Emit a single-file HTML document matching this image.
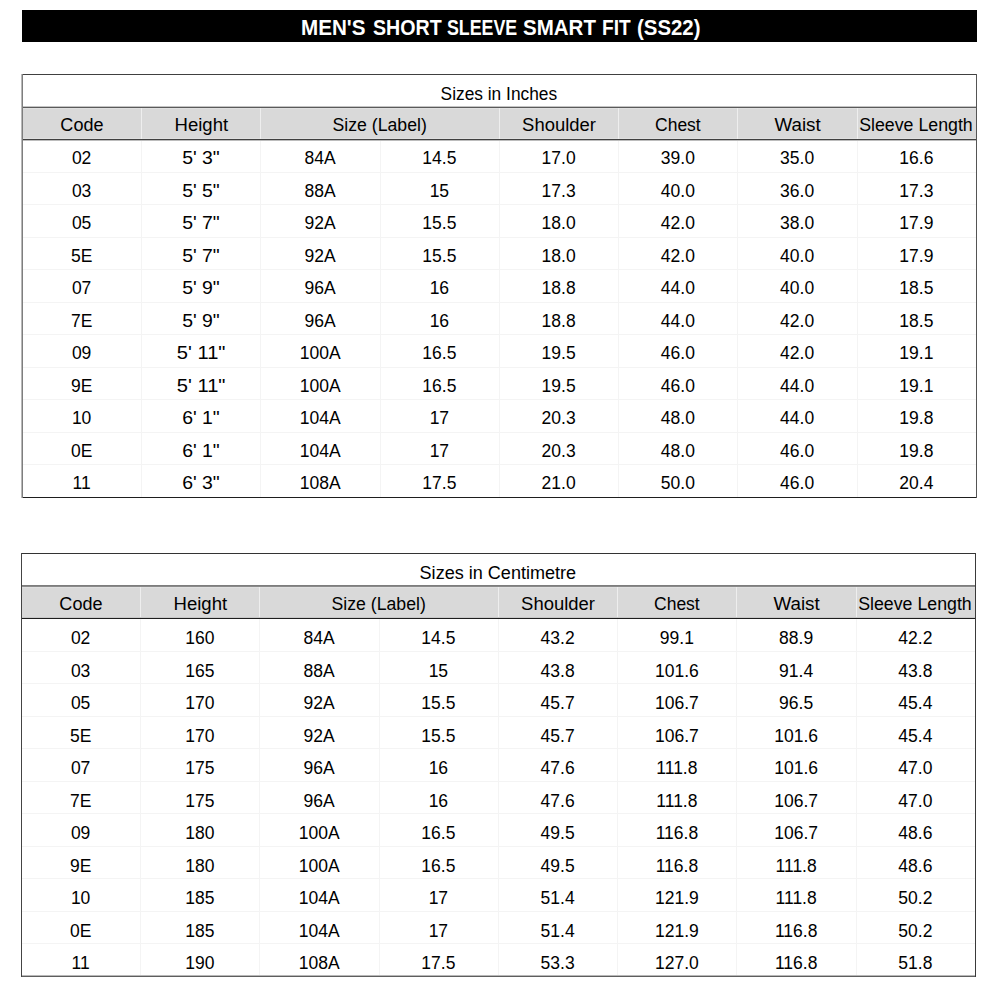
<!DOCTYPE html>
<html><head><meta charset="utf-8"><style>
html,body{margin:0;padding:0;background:#fff;}
body{width:1000px;height:1000px;position:relative;overflow:hidden;font-family:"Liberation Sans",sans-serif;color:#000;}
.t{position:absolute;text-align:center;white-space:nowrap;}
.ln{position:absolute;}
.hb{position:absolute;background:#d9d9d9;}
.vw{position:absolute;width:1px;background:#f0f0f0;}
.vg{position:absolute;width:1px;background:#f2f2f2;}
.hg{position:absolute;height:1px;background:#f2f2f2;}
.hl{position:absolute;height:1px;}
.bar{position:absolute;left:22px;top:10px;width:955px;height:32px;background:#000;}
</style></head><body>
<div class="bar"></div>
<div style="position:absolute;left:301.28px;top:15.50px;height:24px;line-height:24px;font-size:22.5px;font-weight:bold;color:#fff;white-space:nowrap;transform:scaleX(0.9159);transform-origin:0 50%;">MEN&#39;S</div>
<div style="position:absolute;left:372.53px;top:15.50px;height:24px;line-height:24px;font-size:22.5px;font-weight:bold;color:#fff;white-space:nowrap;transform:scaleX(0.8718);transform-origin:0 50%;">SHORT</div>
<div style="position:absolute;left:447.21px;top:15.50px;height:24px;line-height:24px;font-size:22.5px;font-weight:bold;color:#fff;white-space:nowrap;transform:scaleX(0.7908);transform-origin:0 50%;">SLEEVE</div>
<div style="position:absolute;left:523.09px;top:15.50px;height:24px;line-height:24px;font-size:22.5px;font-weight:bold;color:#fff;white-space:nowrap;transform:scaleX(0.9114);transform-origin:0 50%;">SMART</div>
<div style="position:absolute;left:602.35px;top:15.50px;height:24px;line-height:24px;font-size:22.5px;font-weight:bold;color:#fff;white-space:nowrap;transform:scaleX(0.8485);transform-origin:0 50%;">FIT</div>
<div style="position:absolute;left:636.69px;top:15.50px;height:24px;line-height:24px;font-size:22.5px;font-weight:bold;color:#fff;white-space:nowrap;transform:scaleX(0.9059);transform-origin:0 50%;">(SS22)</div>
<div class="hb" style="left:23px;top:108px;width:953px;height:31px"></div>
<div class="ln" style="left:23px;top:108px;width:953px;height:1px;background:#e0e0e0"></div>
<div class="ln" style="left:23px;top:138px;width:953px;height:1px;background:#e0e0e0"></div>
<div class="ln" style="left:141px;top:108px;width:1px;height:31px;background:#eeeeee"></div>
<div class="ln" style="left:260px;top:108px;width:1px;height:31px;background:#eeeeee"></div>
<div class="ln" style="left:499px;top:108px;width:1px;height:31px;background:#eeeeee"></div>
<div class="ln" style="left:618px;top:108px;width:1px;height:31px;background:#eeeeee"></div>
<div class="ln" style="left:737px;top:108px;width:1px;height:31px;background:#eeeeee"></div>
<div class="ln" style="left:857px;top:108px;width:1px;height:31px;background:#eeeeee"></div>
<div class="ln" style="left:141px;top:140px;width:1px;height:357px;background:#f4f4f4"></div>
<div class="ln" style="left:260px;top:140px;width:1px;height:357px;background:#f4f4f4"></div>
<div class="ln" style="left:380px;top:140px;width:1px;height:357px;background:#f4f4f4"></div>
<div class="ln" style="left:499px;top:140px;width:1px;height:357px;background:#f4f4f4"></div>
<div class="ln" style="left:618px;top:140px;width:1px;height:357px;background:#f4f4f4"></div>
<div class="ln" style="left:737px;top:140px;width:1px;height:357px;background:#f4f4f4"></div>
<div class="ln" style="left:857px;top:140px;width:1px;height:357px;background:#f4f4f4"></div>
<div class="ln" style="left:23px;top:172px;width:953px;height:1px;background:#f4f4f4"></div>
<div class="ln" style="left:23px;top:204px;width:953px;height:1px;background:#f4f4f4"></div>
<div class="ln" style="left:23px;top:237px;width:953px;height:1px;background:#f4f4f4"></div>
<div class="ln" style="left:23px;top:269px;width:953px;height:1px;background:#f4f4f4"></div>
<div class="ln" style="left:23px;top:302px;width:953px;height:1px;background:#f4f4f4"></div>
<div class="ln" style="left:23px;top:334px;width:953px;height:1px;background:#f4f4f4"></div>
<div class="ln" style="left:23px;top:367px;width:953px;height:1px;background:#f4f4f4"></div>
<div class="ln" style="left:23px;top:399px;width:953px;height:1px;background:#f4f4f4"></div>
<div class="ln" style="left:23px;top:432px;width:953px;height:1px;background:#f4f4f4"></div>
<div class="ln" style="left:23px;top:464px;width:953px;height:1px;background:#f4f4f4"></div>
<div class="ln" style="left:21px;top:74px;width:955px;height:1px;background:#404040"></div>
<div class="ln" style="left:21px;top:497px;width:955px;height:1px;background:#1e1e1e"></div>
<div class="ln" style="left:21px;top:106px;width:955px;height:1px;background:#c4c4c4"></div>
<div class="ln" style="left:21px;top:107px;width:955px;height:1px;background:#5a5a5a"></div>
<div class="ln" style="left:21px;top:139px;width:955px;height:1px;background:#404040"></div>
<div class="ln" style="left:21px;top:140px;width:955px;height:1px;background:#bcbcbc"></div>
<div class="ln" style="left:21px;top:74px;width:1px;height:424px;background:#b8b8b8"></div>
<div class="ln" style="left:22px;top:74px;width:1px;height:424px;background:#7e7e7e"></div>
<div class="ln" style="left:976px;top:74px;width:1px;height:424px;background:#555555"></div>
<div class="t" style="left:22.00px;width:954.00px;top:83.74px;font-size:17.5px;line-height:20px;"><span style="display:inline-block;transform:scaleX(0.9900);transform-origin:50% 50%;">Sizes in Inches</span></div>
<div class="t" style="left:22.20px;width:119.25px;top:115.14px;font-size:17.5px;line-height:20px;"><span style="display:inline-block;transform:scaleX(1.0300);transform-origin:50% 50%;">Code</span></div>
<div class="t" style="left:141.75px;width:119.25px;top:115.14px;font-size:17.5px;line-height:20px;"><span style="display:inline-block;transform:scaleX(1.0600);transform-origin:50% 50%;">Height</span></div>
<div class="t" style="left:260.80px;width:238.50px;top:115.14px;font-size:17.5px;line-height:20px;"><span style="display:inline-block;transform:scaleX(1.0100);transform-origin:50% 50%;">Size (Label)</span></div>
<div class="t" style="left:499.50px;width:119.25px;top:115.14px;font-size:17.5px;line-height:20px;"><span style="display:inline-block;transform:scaleX(1.0540);transform-origin:50% 50%;">Shoulder</span></div>
<div class="t" style="left:618.25px;width:119.25px;top:115.14px;font-size:17.5px;line-height:20px;">Chest</div>
<div class="t" style="left:737.90px;width:119.25px;top:115.14px;font-size:17.5px;line-height:20px;"><span style="display:inline-block;transform:scaleX(1.0740);transform-origin:50% 50%;">Waist</span></div>
<div class="t" style="left:856.15px;width:119.25px;top:115.14px;font-size:17.5px;line-height:20px;"><span style="display:inline-block;transform:scaleX(1.0150);transform-origin:50% 50%;">Sleeve Length</span></div>
<div class="t" style="left:22.00px;width:119.25px;top:148.14px;font-size:17.5px;line-height:20px;">02</div>
<div class="t" style="left:141.25px;width:119.25px;top:148.14px;font-size:17.5px;line-height:20px;"><span style="display:inline-block;transform:scaleX(1.1100);transform-origin:50% 50%;">5&#x27; 3&quot;</span></div>
<div class="t" style="left:260.50px;width:119.25px;top:148.14px;font-size:17.5px;line-height:20px;">84A</div>
<div class="t" style="left:379.75px;width:119.25px;top:148.14px;font-size:17.5px;line-height:20px;">14.5</div>
<div class="t" style="left:499.00px;width:119.25px;top:148.14px;font-size:17.5px;line-height:20px;">17.0</div>
<div class="t" style="left:618.25px;width:119.25px;top:148.14px;font-size:17.5px;line-height:20px;">39.0</div>
<div class="t" style="left:737.50px;width:119.25px;top:148.14px;font-size:17.5px;line-height:20px;">35.0</div>
<div class="t" style="left:856.75px;width:119.25px;top:148.14px;font-size:17.5px;line-height:20px;">16.6</div>
<div class="t" style="left:22.00px;width:119.25px;top:180.64px;font-size:17.5px;line-height:20px;">03</div>
<div class="t" style="left:141.25px;width:119.25px;top:180.64px;font-size:17.5px;line-height:20px;"><span style="display:inline-block;transform:scaleX(1.1100);transform-origin:50% 50%;">5&#x27; 5&quot;</span></div>
<div class="t" style="left:260.50px;width:119.25px;top:180.64px;font-size:17.5px;line-height:20px;">88A</div>
<div class="t" style="left:379.75px;width:119.25px;top:180.64px;font-size:17.5px;line-height:20px;">15</div>
<div class="t" style="left:499.00px;width:119.25px;top:180.64px;font-size:17.5px;line-height:20px;">17.3</div>
<div class="t" style="left:618.25px;width:119.25px;top:180.64px;font-size:17.5px;line-height:20px;">40.0</div>
<div class="t" style="left:737.50px;width:119.25px;top:180.64px;font-size:17.5px;line-height:20px;">36.0</div>
<div class="t" style="left:856.75px;width:119.25px;top:180.64px;font-size:17.5px;line-height:20px;">17.3</div>
<div class="t" style="left:22.00px;width:119.25px;top:213.14px;font-size:17.5px;line-height:20px;">05</div>
<div class="t" style="left:141.25px;width:119.25px;top:213.14px;font-size:17.5px;line-height:20px;"><span style="display:inline-block;transform:scaleX(1.1100);transform-origin:50% 50%;">5&#x27; 7&quot;</span></div>
<div class="t" style="left:260.50px;width:119.25px;top:213.14px;font-size:17.5px;line-height:20px;">92A</div>
<div class="t" style="left:379.75px;width:119.25px;top:213.14px;font-size:17.5px;line-height:20px;">15.5</div>
<div class="t" style="left:499.00px;width:119.25px;top:213.14px;font-size:17.5px;line-height:20px;">18.0</div>
<div class="t" style="left:618.25px;width:119.25px;top:213.14px;font-size:17.5px;line-height:20px;">42.0</div>
<div class="t" style="left:737.50px;width:119.25px;top:213.14px;font-size:17.5px;line-height:20px;">38.0</div>
<div class="t" style="left:856.75px;width:119.25px;top:213.14px;font-size:17.5px;line-height:20px;">17.9</div>
<div class="t" style="left:22.00px;width:119.25px;top:245.64px;font-size:17.5px;line-height:20px;">5E</div>
<div class="t" style="left:141.25px;width:119.25px;top:245.64px;font-size:17.5px;line-height:20px;"><span style="display:inline-block;transform:scaleX(1.1100);transform-origin:50% 50%;">5&#x27; 7&quot;</span></div>
<div class="t" style="left:260.50px;width:119.25px;top:245.64px;font-size:17.5px;line-height:20px;">92A</div>
<div class="t" style="left:379.75px;width:119.25px;top:245.64px;font-size:17.5px;line-height:20px;">15.5</div>
<div class="t" style="left:499.00px;width:119.25px;top:245.64px;font-size:17.5px;line-height:20px;">18.0</div>
<div class="t" style="left:618.25px;width:119.25px;top:245.64px;font-size:17.5px;line-height:20px;">42.0</div>
<div class="t" style="left:737.50px;width:119.25px;top:245.64px;font-size:17.5px;line-height:20px;">40.0</div>
<div class="t" style="left:856.75px;width:119.25px;top:245.64px;font-size:17.5px;line-height:20px;">17.9</div>
<div class="t" style="left:22.00px;width:119.25px;top:278.14px;font-size:17.5px;line-height:20px;">07</div>
<div class="t" style="left:141.25px;width:119.25px;top:278.14px;font-size:17.5px;line-height:20px;"><span style="display:inline-block;transform:scaleX(1.1100);transform-origin:50% 50%;">5&#x27; 9&quot;</span></div>
<div class="t" style="left:260.50px;width:119.25px;top:278.14px;font-size:17.5px;line-height:20px;">96A</div>
<div class="t" style="left:379.75px;width:119.25px;top:278.14px;font-size:17.5px;line-height:20px;">16</div>
<div class="t" style="left:499.00px;width:119.25px;top:278.14px;font-size:17.5px;line-height:20px;">18.8</div>
<div class="t" style="left:618.25px;width:119.25px;top:278.14px;font-size:17.5px;line-height:20px;">44.0</div>
<div class="t" style="left:737.50px;width:119.25px;top:278.14px;font-size:17.5px;line-height:20px;">40.0</div>
<div class="t" style="left:856.75px;width:119.25px;top:278.14px;font-size:17.5px;line-height:20px;">18.5</div>
<div class="t" style="left:22.00px;width:119.25px;top:310.64px;font-size:17.5px;line-height:20px;">7E</div>
<div class="t" style="left:141.25px;width:119.25px;top:310.64px;font-size:17.5px;line-height:20px;"><span style="display:inline-block;transform:scaleX(1.1100);transform-origin:50% 50%;">5&#x27; 9&quot;</span></div>
<div class="t" style="left:260.50px;width:119.25px;top:310.64px;font-size:17.5px;line-height:20px;">96A</div>
<div class="t" style="left:379.75px;width:119.25px;top:310.64px;font-size:17.5px;line-height:20px;">16</div>
<div class="t" style="left:499.00px;width:119.25px;top:310.64px;font-size:17.5px;line-height:20px;">18.8</div>
<div class="t" style="left:618.25px;width:119.25px;top:310.64px;font-size:17.5px;line-height:20px;">44.0</div>
<div class="t" style="left:737.50px;width:119.25px;top:310.64px;font-size:17.5px;line-height:20px;">42.0</div>
<div class="t" style="left:856.75px;width:119.25px;top:310.64px;font-size:17.5px;line-height:20px;">18.5</div>
<div class="t" style="left:22.00px;width:119.25px;top:343.14px;font-size:17.5px;line-height:20px;">09</div>
<div class="t" style="left:141.25px;width:119.25px;top:343.14px;font-size:17.5px;line-height:20px;"><span style="display:inline-block;transform:scaleX(1.1500);transform-origin:50% 50%;">5&#x27; 11&quot;</span></div>
<div class="t" style="left:260.50px;width:119.25px;top:343.14px;font-size:17.5px;line-height:20px;">100A</div>
<div class="t" style="left:379.75px;width:119.25px;top:343.14px;font-size:17.5px;line-height:20px;">16.5</div>
<div class="t" style="left:499.00px;width:119.25px;top:343.14px;font-size:17.5px;line-height:20px;">19.5</div>
<div class="t" style="left:618.25px;width:119.25px;top:343.14px;font-size:17.5px;line-height:20px;">46.0</div>
<div class="t" style="left:737.50px;width:119.25px;top:343.14px;font-size:17.5px;line-height:20px;">42.0</div>
<div class="t" style="left:856.75px;width:119.25px;top:343.14px;font-size:17.5px;line-height:20px;">19.1</div>
<div class="t" style="left:22.00px;width:119.25px;top:375.64px;font-size:17.5px;line-height:20px;">9E</div>
<div class="t" style="left:141.25px;width:119.25px;top:375.64px;font-size:17.5px;line-height:20px;"><span style="display:inline-block;transform:scaleX(1.1500);transform-origin:50% 50%;">5&#x27; 11&quot;</span></div>
<div class="t" style="left:260.50px;width:119.25px;top:375.64px;font-size:17.5px;line-height:20px;">100A</div>
<div class="t" style="left:379.75px;width:119.25px;top:375.64px;font-size:17.5px;line-height:20px;">16.5</div>
<div class="t" style="left:499.00px;width:119.25px;top:375.64px;font-size:17.5px;line-height:20px;">19.5</div>
<div class="t" style="left:618.25px;width:119.25px;top:375.64px;font-size:17.5px;line-height:20px;">46.0</div>
<div class="t" style="left:737.50px;width:119.25px;top:375.64px;font-size:17.5px;line-height:20px;">44.0</div>
<div class="t" style="left:856.75px;width:119.25px;top:375.64px;font-size:17.5px;line-height:20px;">19.1</div>
<div class="t" style="left:22.00px;width:119.25px;top:408.14px;font-size:17.5px;line-height:20px;">10</div>
<div class="t" style="left:141.25px;width:119.25px;top:408.14px;font-size:17.5px;line-height:20px;"><span style="display:inline-block;transform:scaleX(1.1100);transform-origin:50% 50%;">6&#x27; 1&quot;</span></div>
<div class="t" style="left:260.50px;width:119.25px;top:408.14px;font-size:17.5px;line-height:20px;">104A</div>
<div class="t" style="left:379.75px;width:119.25px;top:408.14px;font-size:17.5px;line-height:20px;">17</div>
<div class="t" style="left:499.00px;width:119.25px;top:408.14px;font-size:17.5px;line-height:20px;">20.3</div>
<div class="t" style="left:618.25px;width:119.25px;top:408.14px;font-size:17.5px;line-height:20px;">48.0</div>
<div class="t" style="left:737.50px;width:119.25px;top:408.14px;font-size:17.5px;line-height:20px;">44.0</div>
<div class="t" style="left:856.75px;width:119.25px;top:408.14px;font-size:17.5px;line-height:20px;">19.8</div>
<div class="t" style="left:22.00px;width:119.25px;top:440.64px;font-size:17.5px;line-height:20px;">0E</div>
<div class="t" style="left:141.25px;width:119.25px;top:440.64px;font-size:17.5px;line-height:20px;"><span style="display:inline-block;transform:scaleX(1.1100);transform-origin:50% 50%;">6&#x27; 1&quot;</span></div>
<div class="t" style="left:260.50px;width:119.25px;top:440.64px;font-size:17.5px;line-height:20px;">104A</div>
<div class="t" style="left:379.75px;width:119.25px;top:440.64px;font-size:17.5px;line-height:20px;">17</div>
<div class="t" style="left:499.00px;width:119.25px;top:440.64px;font-size:17.5px;line-height:20px;">20.3</div>
<div class="t" style="left:618.25px;width:119.25px;top:440.64px;font-size:17.5px;line-height:20px;">48.0</div>
<div class="t" style="left:737.50px;width:119.25px;top:440.64px;font-size:17.5px;line-height:20px;">46.0</div>
<div class="t" style="left:856.75px;width:119.25px;top:440.64px;font-size:17.5px;line-height:20px;">19.8</div>
<div class="t" style="left:22.00px;width:119.25px;top:473.14px;font-size:17.5px;line-height:20px;">11</div>
<div class="t" style="left:141.25px;width:119.25px;top:473.14px;font-size:17.5px;line-height:20px;"><span style="display:inline-block;transform:scaleX(1.1100);transform-origin:50% 50%;">6&#x27; 3&quot;</span></div>
<div class="t" style="left:260.50px;width:119.25px;top:473.14px;font-size:17.5px;line-height:20px;">108A</div>
<div class="t" style="left:379.75px;width:119.25px;top:473.14px;font-size:17.5px;line-height:20px;">17.5</div>
<div class="t" style="left:499.00px;width:119.25px;top:473.14px;font-size:17.5px;line-height:20px;">21.0</div>
<div class="t" style="left:618.25px;width:119.25px;top:473.14px;font-size:17.5px;line-height:20px;">50.0</div>
<div class="t" style="left:737.50px;width:119.25px;top:473.14px;font-size:17.5px;line-height:20px;">46.0</div>
<div class="t" style="left:856.75px;width:119.25px;top:473.14px;font-size:17.5px;line-height:20px;">20.4</div>
<div class="hb" style="left:22px;top:587px;width:953px;height:31px"></div>
<div class="ln" style="left:22px;top:587px;width:953px;height:1px;background:#e0e0e0"></div>
<div class="ln" style="left:22px;top:617px;width:953px;height:1px;background:#e0e0e0"></div>
<div class="ln" style="left:140px;top:587px;width:1px;height:31px;background:#eeeeee"></div>
<div class="ln" style="left:259px;top:587px;width:1px;height:31px;background:#eeeeee"></div>
<div class="ln" style="left:498px;top:587px;width:1px;height:31px;background:#eeeeee"></div>
<div class="ln" style="left:617px;top:587px;width:1px;height:31px;background:#eeeeee"></div>
<div class="ln" style="left:736px;top:587px;width:1px;height:31px;background:#eeeeee"></div>
<div class="ln" style="left:856px;top:587px;width:1px;height:31px;background:#eeeeee"></div>
<div class="ln" style="left:140px;top:619px;width:1px;height:357px;background:#f4f4f4"></div>
<div class="ln" style="left:259px;top:619px;width:1px;height:357px;background:#f4f4f4"></div>
<div class="ln" style="left:379px;top:619px;width:1px;height:357px;background:#f4f4f4"></div>
<div class="ln" style="left:498px;top:619px;width:1px;height:357px;background:#f4f4f4"></div>
<div class="ln" style="left:617px;top:619px;width:1px;height:357px;background:#f4f4f4"></div>
<div class="ln" style="left:736px;top:619px;width:1px;height:357px;background:#f4f4f4"></div>
<div class="ln" style="left:856px;top:619px;width:1px;height:357px;background:#f4f4f4"></div>
<div class="ln" style="left:22px;top:651px;width:953px;height:1px;background:#f4f4f4"></div>
<div class="ln" style="left:22px;top:683px;width:953px;height:1px;background:#f4f4f4"></div>
<div class="ln" style="left:22px;top:716px;width:953px;height:1px;background:#f4f4f4"></div>
<div class="ln" style="left:22px;top:748px;width:953px;height:1px;background:#f4f4f4"></div>
<div class="ln" style="left:22px;top:781px;width:953px;height:1px;background:#f4f4f4"></div>
<div class="ln" style="left:22px;top:813px;width:953px;height:1px;background:#f4f4f4"></div>
<div class="ln" style="left:22px;top:846px;width:953px;height:1px;background:#f4f4f4"></div>
<div class="ln" style="left:22px;top:878px;width:953px;height:1px;background:#f4f4f4"></div>
<div class="ln" style="left:22px;top:911px;width:953px;height:1px;background:#f4f4f4"></div>
<div class="ln" style="left:22px;top:943px;width:953px;height:1px;background:#f4f4f4"></div>
<div class="ln" style="left:21px;top:553px;width:955px;height:1px;background:#333333"></div>
<div class="ln" style="left:21px;top:976px;width:955px;height:1px;background:#5e5e5e"></div>
<div class="ln" style="left:21px;top:975px;width:955px;height:1px;background:#b8b8b8"></div>
<div class="ln" style="left:21px;top:585px;width:955px;height:1px;background:#7d7d7d"></div>
<div class="ln" style="left:21px;top:586px;width:955px;height:1px;background:#8a8a8a"></div>
<div class="ln" style="left:21px;top:618px;width:955px;height:1px;background:#1e1e1e"></div>
<div class="ln" style="left:21px;top:617px;width:955px;height:1px;background:#c8c8c8"></div>
<div class="ln" style="left:21px;top:553px;width:1px;height:424px;background:#444444"></div>
<div class="ln" style="left:975px;top:553px;width:1px;height:424px;background:#3a3a3a"></div>
<div class="t" style="left:21.00px;width:954.00px;top:562.74px;font-size:17.5px;line-height:20px;"><span style="display:inline-block;transform:scaleX(1.0320);transform-origin:50% 50%;">Sizes in Centimetre</span></div>
<div class="t" style="left:21.20px;width:119.25px;top:594.14px;font-size:17.5px;line-height:20px;"><span style="display:inline-block;transform:scaleX(1.0300);transform-origin:50% 50%;">Code</span></div>
<div class="t" style="left:140.75px;width:119.25px;top:594.14px;font-size:17.5px;line-height:20px;"><span style="display:inline-block;transform:scaleX(1.0600);transform-origin:50% 50%;">Height</span></div>
<div class="t" style="left:259.80px;width:238.50px;top:594.14px;font-size:17.5px;line-height:20px;"><span style="display:inline-block;transform:scaleX(1.0100);transform-origin:50% 50%;">Size (Label)</span></div>
<div class="t" style="left:498.50px;width:119.25px;top:594.14px;font-size:17.5px;line-height:20px;"><span style="display:inline-block;transform:scaleX(1.0540);transform-origin:50% 50%;">Shoulder</span></div>
<div class="t" style="left:617.25px;width:119.25px;top:594.14px;font-size:17.5px;line-height:20px;">Chest</div>
<div class="t" style="left:736.90px;width:119.25px;top:594.14px;font-size:17.5px;line-height:20px;"><span style="display:inline-block;transform:scaleX(1.0740);transform-origin:50% 50%;">Waist</span></div>
<div class="t" style="left:855.15px;width:119.25px;top:594.14px;font-size:17.5px;line-height:20px;"><span style="display:inline-block;transform:scaleX(1.0150);transform-origin:50% 50%;">Sleeve Length</span></div>
<div class="t" style="left:21.00px;width:119.25px;top:628.14px;font-size:17.5px;line-height:20px;">02</div>
<div class="t" style="left:140.25px;width:119.25px;top:628.14px;font-size:17.5px;line-height:20px;">160</div>
<div class="t" style="left:259.50px;width:119.25px;top:628.14px;font-size:17.5px;line-height:20px;">84A</div>
<div class="t" style="left:378.75px;width:119.25px;top:628.14px;font-size:17.5px;line-height:20px;">14.5</div>
<div class="t" style="left:498.00px;width:119.25px;top:628.14px;font-size:17.5px;line-height:20px;">43.2</div>
<div class="t" style="left:617.25px;width:119.25px;top:628.14px;font-size:17.5px;line-height:20px;">99.1</div>
<div class="t" style="left:736.50px;width:119.25px;top:628.14px;font-size:17.5px;line-height:20px;">88.9</div>
<div class="t" style="left:855.75px;width:119.25px;top:628.14px;font-size:17.5px;line-height:20px;">42.2</div>
<div class="t" style="left:21.00px;width:119.25px;top:660.64px;font-size:17.5px;line-height:20px;">03</div>
<div class="t" style="left:140.25px;width:119.25px;top:660.64px;font-size:17.5px;line-height:20px;">165</div>
<div class="t" style="left:259.50px;width:119.25px;top:660.64px;font-size:17.5px;line-height:20px;">88A</div>
<div class="t" style="left:378.75px;width:119.25px;top:660.64px;font-size:17.5px;line-height:20px;">15</div>
<div class="t" style="left:498.00px;width:119.25px;top:660.64px;font-size:17.5px;line-height:20px;">43.8</div>
<div class="t" style="left:617.25px;width:119.25px;top:660.64px;font-size:17.5px;line-height:20px;">101.6</div>
<div class="t" style="left:736.50px;width:119.25px;top:660.64px;font-size:17.5px;line-height:20px;">91.4</div>
<div class="t" style="left:855.75px;width:119.25px;top:660.64px;font-size:17.5px;line-height:20px;">43.8</div>
<div class="t" style="left:21.00px;width:119.25px;top:693.14px;font-size:17.5px;line-height:20px;">05</div>
<div class="t" style="left:140.25px;width:119.25px;top:693.14px;font-size:17.5px;line-height:20px;">170</div>
<div class="t" style="left:259.50px;width:119.25px;top:693.14px;font-size:17.5px;line-height:20px;">92A</div>
<div class="t" style="left:378.75px;width:119.25px;top:693.14px;font-size:17.5px;line-height:20px;">15.5</div>
<div class="t" style="left:498.00px;width:119.25px;top:693.14px;font-size:17.5px;line-height:20px;">45.7</div>
<div class="t" style="left:617.25px;width:119.25px;top:693.14px;font-size:17.5px;line-height:20px;">106.7</div>
<div class="t" style="left:736.50px;width:119.25px;top:693.14px;font-size:17.5px;line-height:20px;">96.5</div>
<div class="t" style="left:855.75px;width:119.25px;top:693.14px;font-size:17.5px;line-height:20px;">45.4</div>
<div class="t" style="left:21.00px;width:119.25px;top:725.64px;font-size:17.5px;line-height:20px;">5E</div>
<div class="t" style="left:140.25px;width:119.25px;top:725.64px;font-size:17.5px;line-height:20px;">170</div>
<div class="t" style="left:259.50px;width:119.25px;top:725.64px;font-size:17.5px;line-height:20px;">92A</div>
<div class="t" style="left:378.75px;width:119.25px;top:725.64px;font-size:17.5px;line-height:20px;">15.5</div>
<div class="t" style="left:498.00px;width:119.25px;top:725.64px;font-size:17.5px;line-height:20px;">45.7</div>
<div class="t" style="left:617.25px;width:119.25px;top:725.64px;font-size:17.5px;line-height:20px;">106.7</div>
<div class="t" style="left:736.50px;width:119.25px;top:725.64px;font-size:17.5px;line-height:20px;">101.6</div>
<div class="t" style="left:855.75px;width:119.25px;top:725.64px;font-size:17.5px;line-height:20px;">45.4</div>
<div class="t" style="left:21.00px;width:119.25px;top:758.14px;font-size:17.5px;line-height:20px;">07</div>
<div class="t" style="left:140.25px;width:119.25px;top:758.14px;font-size:17.5px;line-height:20px;">175</div>
<div class="t" style="left:259.50px;width:119.25px;top:758.14px;font-size:17.5px;line-height:20px;">96A</div>
<div class="t" style="left:378.75px;width:119.25px;top:758.14px;font-size:17.5px;line-height:20px;">16</div>
<div class="t" style="left:498.00px;width:119.25px;top:758.14px;font-size:17.5px;line-height:20px;">47.6</div>
<div class="t" style="left:617.25px;width:119.25px;top:758.14px;font-size:17.5px;line-height:20px;">111.8</div>
<div class="t" style="left:736.50px;width:119.25px;top:758.14px;font-size:17.5px;line-height:20px;">101.6</div>
<div class="t" style="left:855.75px;width:119.25px;top:758.14px;font-size:17.5px;line-height:20px;">47.0</div>
<div class="t" style="left:21.00px;width:119.25px;top:790.64px;font-size:17.5px;line-height:20px;">7E</div>
<div class="t" style="left:140.25px;width:119.25px;top:790.64px;font-size:17.5px;line-height:20px;">175</div>
<div class="t" style="left:259.50px;width:119.25px;top:790.64px;font-size:17.5px;line-height:20px;">96A</div>
<div class="t" style="left:378.75px;width:119.25px;top:790.64px;font-size:17.5px;line-height:20px;">16</div>
<div class="t" style="left:498.00px;width:119.25px;top:790.64px;font-size:17.5px;line-height:20px;">47.6</div>
<div class="t" style="left:617.25px;width:119.25px;top:790.64px;font-size:17.5px;line-height:20px;">111.8</div>
<div class="t" style="left:736.50px;width:119.25px;top:790.64px;font-size:17.5px;line-height:20px;">106.7</div>
<div class="t" style="left:855.75px;width:119.25px;top:790.64px;font-size:17.5px;line-height:20px;">47.0</div>
<div class="t" style="left:21.00px;width:119.25px;top:823.14px;font-size:17.5px;line-height:20px;">09</div>
<div class="t" style="left:140.25px;width:119.25px;top:823.14px;font-size:17.5px;line-height:20px;">180</div>
<div class="t" style="left:259.50px;width:119.25px;top:823.14px;font-size:17.5px;line-height:20px;">100A</div>
<div class="t" style="left:378.75px;width:119.25px;top:823.14px;font-size:17.5px;line-height:20px;">16.5</div>
<div class="t" style="left:498.00px;width:119.25px;top:823.14px;font-size:17.5px;line-height:20px;">49.5</div>
<div class="t" style="left:617.25px;width:119.25px;top:823.14px;font-size:17.5px;line-height:20px;">116.8</div>
<div class="t" style="left:736.50px;width:119.25px;top:823.14px;font-size:17.5px;line-height:20px;">106.7</div>
<div class="t" style="left:855.75px;width:119.25px;top:823.14px;font-size:17.5px;line-height:20px;">48.6</div>
<div class="t" style="left:21.00px;width:119.25px;top:855.64px;font-size:17.5px;line-height:20px;">9E</div>
<div class="t" style="left:140.25px;width:119.25px;top:855.64px;font-size:17.5px;line-height:20px;">180</div>
<div class="t" style="left:259.50px;width:119.25px;top:855.64px;font-size:17.5px;line-height:20px;">100A</div>
<div class="t" style="left:378.75px;width:119.25px;top:855.64px;font-size:17.5px;line-height:20px;">16.5</div>
<div class="t" style="left:498.00px;width:119.25px;top:855.64px;font-size:17.5px;line-height:20px;">49.5</div>
<div class="t" style="left:617.25px;width:119.25px;top:855.64px;font-size:17.5px;line-height:20px;">116.8</div>
<div class="t" style="left:736.50px;width:119.25px;top:855.64px;font-size:17.5px;line-height:20px;">111.8</div>
<div class="t" style="left:855.75px;width:119.25px;top:855.64px;font-size:17.5px;line-height:20px;">48.6</div>
<div class="t" style="left:21.00px;width:119.25px;top:888.14px;font-size:17.5px;line-height:20px;">10</div>
<div class="t" style="left:140.25px;width:119.25px;top:888.14px;font-size:17.5px;line-height:20px;">185</div>
<div class="t" style="left:259.50px;width:119.25px;top:888.14px;font-size:17.5px;line-height:20px;">104A</div>
<div class="t" style="left:378.75px;width:119.25px;top:888.14px;font-size:17.5px;line-height:20px;">17</div>
<div class="t" style="left:498.00px;width:119.25px;top:888.14px;font-size:17.5px;line-height:20px;">51.4</div>
<div class="t" style="left:617.25px;width:119.25px;top:888.14px;font-size:17.5px;line-height:20px;">121.9</div>
<div class="t" style="left:736.50px;width:119.25px;top:888.14px;font-size:17.5px;line-height:20px;">111.8</div>
<div class="t" style="left:855.75px;width:119.25px;top:888.14px;font-size:17.5px;line-height:20px;">50.2</div>
<div class="t" style="left:21.00px;width:119.25px;top:920.64px;font-size:17.5px;line-height:20px;">0E</div>
<div class="t" style="left:140.25px;width:119.25px;top:920.64px;font-size:17.5px;line-height:20px;">185</div>
<div class="t" style="left:259.50px;width:119.25px;top:920.64px;font-size:17.5px;line-height:20px;">104A</div>
<div class="t" style="left:378.75px;width:119.25px;top:920.64px;font-size:17.5px;line-height:20px;">17</div>
<div class="t" style="left:498.00px;width:119.25px;top:920.64px;font-size:17.5px;line-height:20px;">51.4</div>
<div class="t" style="left:617.25px;width:119.25px;top:920.64px;font-size:17.5px;line-height:20px;">121.9</div>
<div class="t" style="left:736.50px;width:119.25px;top:920.64px;font-size:17.5px;line-height:20px;">116.8</div>
<div class="t" style="left:855.75px;width:119.25px;top:920.64px;font-size:17.5px;line-height:20px;">50.2</div>
<div class="t" style="left:21.00px;width:119.25px;top:953.14px;font-size:17.5px;line-height:20px;">11</div>
<div class="t" style="left:140.25px;width:119.25px;top:953.14px;font-size:17.5px;line-height:20px;">190</div>
<div class="t" style="left:259.50px;width:119.25px;top:953.14px;font-size:17.5px;line-height:20px;">108A</div>
<div class="t" style="left:378.75px;width:119.25px;top:953.14px;font-size:17.5px;line-height:20px;">17.5</div>
<div class="t" style="left:498.00px;width:119.25px;top:953.14px;font-size:17.5px;line-height:20px;">53.3</div>
<div class="t" style="left:617.25px;width:119.25px;top:953.14px;font-size:17.5px;line-height:20px;">127.0</div>
<div class="t" style="left:736.50px;width:119.25px;top:953.14px;font-size:17.5px;line-height:20px;">116.8</div>
<div class="t" style="left:855.75px;width:119.25px;top:953.14px;font-size:17.5px;line-height:20px;">51.8</div>
</body></html>
